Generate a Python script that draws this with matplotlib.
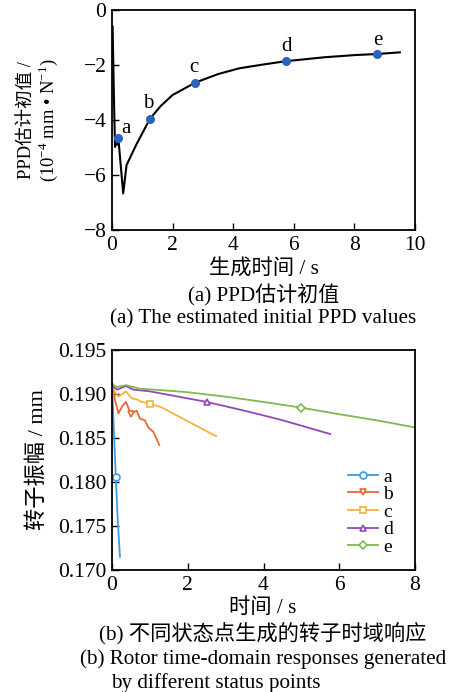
import numpy as np
import matplotlib
matplotlib.use('Agg')
import matplotlib.pyplot as plt

FONT = ['Liberation Serif', 'Noto Sans CJK SC', 'DejaVu Serif']
plt.rcParams['font.family'] = FONT
plt.rcParams['mathtext.fontset'] = 'custom'
plt.rcParams['mathtext.rm'] = 'Liberation Serif'
plt.rcParams['axes.unicode_minus'] = True

# (a) PPD initial estimate vs generation time
t_ppd = [0.02, 0.06, 0.10, 0.14, 0.17, 0.21, 0.37, 0.48, 0.80, 1.25, 1.60, 2.00,
         2.75, 3.50, 4.20, 5.00, 5.75, 7.00, 8.00, 8.75, 9.50]
ppd = [-0.6, -3.0, -4.98, -4.75, -4.90, -4.67, -6.67, -5.64, -4.90, -3.96, -3.50, -3.09,
       -2.64, -2.33, -2.12, -1.98, -1.86, -1.72, -1.64, -1.60, -1.54]
point_names = ['a', 'b', 'c', 'd', 'e']
point_t = [0.21, 1.25, 2.75, 5.75, 8.75]
point_ppd = [-4.67, -3.96, -2.64, -1.86, -1.60]
label_t = [0.46, 1.20, 2.70, 5.76, 8.77]
label_ppd = [-4.30, -3.40, -2.10, -1.33, -1.10]

# (b) rotor responses for each status point
xa = [0.0, 0.05, 0.10, 0.15, 0.21]
ya = [0.1912, 0.1858, 0.1806, 0.1758, 0.1715]
xb = [0.0, 0.08, 0.17, 0.27, 0.37, 0.50, 0.65, 0.74, 0.87, 0.96, 1.09, 1.25]
yb = [0.1912, 0.1893, 0.1878, 0.1886, 0.1891, 0.1877, 0.1881, 0.1872, 0.1870, 0.1862, 0.1857, 0.1842]
xc = [0.0, 0.08, 0.17, 0.27, 0.37, 0.52, 0.65, 0.78, 1.00, 1.30, 2.00, 2.75]
yc = [0.1912, 0.1902, 0.1897, 0.1900, 0.1903, 0.1895, 0.1894, 0.1891, 0.1889, 0.1885, 0.1869, 0.1852]
xd = [0.0, 0.07, 0.14, 0.25, 0.37, 0.56, 1.0, 1.5, 2.0, 2.5, 3.5, 4.43, 5.0, 5.76]
yd = [0.1912, 0.1907, 0.1905, 0.1907, 0.1909, 0.1905, 0.1903, 0.1899, 0.1895, 0.1891, 0.1881, 0.1871, 0.1864, 0.18545]
xe = [0.0, 0.07, 0.14, 0.25, 0.37, 0.74, 1.27, 2.0, 3.0, 4.0, 5.0, 6.0, 7.0, 8.0]
ye = [0.1912, 0.1909, 0.1908, 0.1909, 0.1910, 0.1906, 0.19045, 0.1902, 0.1897, 0.1891, 0.18845, 0.1877, 0.1870, 0.1862]

series = [('a', xa, ya, '#3C9BE0', 'o', 2, 5),
          ('b', xb, yb, '#EE6633', 'v', 5, 5),
          ('c', xc, yc, '#F7B13E', 's', 8, 4.5),
          ('d', xd, yd, '#9448B8', '^', 9, 5),
          ('e', xe, ye, '#7DBB4F', 'D', 10, 4)]

W, H = 453, 692
fig = plt.figure(figsize=(W / 100, H / 100), dpi=100)

def fx(px):
    return px / W

def fy(py):
    return 1 - py / H

def axes_px(left, top, right, bottom):
    return fig.add_axes([fx(left), fy(bottom), (right - left) / W, (bottom - top) / H])

def style_axes(ax):
    ax.tick_params(direction='in', length=5, width=1, labelsize=15.5, pad=4,
                   top=False, right=False)
    for sp in ax.spines.values():
        sp.set_linewidth(1.3)

# top panel
ax1 = axes_px(112, 10, 415, 230)
ax1.plot(t_ppd, ppd, color='k', linewidth=1.5)
ax1.plot(point_t, point_ppd, 'o', color='#2A62C2', markersize=5.5)
for n, tx, ty in zip(point_names, label_t, label_ppd):
    ax1.text(tx, ty, n, fontsize=15, ha='center', va='center')
ax1.set_xlim(0, 10)
ax1.set_ylim(-8, 0)
ax1.set_xticks([0, 2, 4, 6, 8, 10])
ax1.set_yticks([-8, -6, -4, -2, 0])
style_axes(ax1)

fig.text(fx(27), fy(120), 'PPD估计初值 /', rotation=90, ha='center', va='center', fontsize=13.3)
fig.text(fx(48), fy(120), '(10$^{-4}$ mm • N$^{-1}$)', rotation=90, ha='center', va='center', fontsize=13.3)
fig.text(fx(264), fy(270), '生成时间 / s', ha='center', va='center', fontsize=15.3)
fig.text(fx(264), fy(295), '(a) PPD估计初值', ha='center', va='center', fontsize=15.1)
fig.text(fx(263), fy(319), '(a) The estimated initial PPD values', ha='center', va='center', fontsize=15.2)

# bottom panel
ax2 = axes_px(112, 350, 415, 570)
for name, xs, ys, col, mk, idx, ms in series:
    ax2.plot(xs, ys, color=col, linewidth=1.3, marker=mk, markevery=[idx],
             markersize=ms, markerfacecolor='white', markeredgecolor=col,
             markeredgewidth=1.2, label=name)
ax2.set_xlim(0, 8)
ax2.set_ylim(0.170, 0.195)
ax2.set_xticks([0, 2, 4, 6, 8])
ax2.set_yticks([0.170, 0.175, 0.180, 0.185, 0.190, 0.195])
ax2.set_yticklabels(['0.170', '0.175', '0.180', '0.185', '0.190', '0.195'])
style_axes(ax2)
ax2.legend(loc='upper left', bbox_to_anchor=(fx(348), fy(468)), bbox_transform=fig.transFigure,
           frameon=False, fontsize=14, handlelength=1.55, handletextpad=0.26,
           labelspacing=0.0, borderpad=0, borderaxespad=0)

fig.text(fx(37), fy(460), '转子振幅 / mm', rotation=90, ha='center', va='center', fontsize=16)
fig.text(fx(263), fy(608), '时间 / s', ha='center', va='center', fontsize=15.3)
fig.text(fx(263), fy(634), '(b) 不同状态点生成的转子时域响应', ha='center', va='center', fontsize=15.3)
fig.text(fx(263), fy(659), '(b) Rotor time-domain responses generated', ha='center', va='center', fontsize=15.2)
fig.text(fx(216), fy(683), 'by different status points', ha='center', va='center', fontsize=15.2)

fig.savefig('out.png', dpi=100)
